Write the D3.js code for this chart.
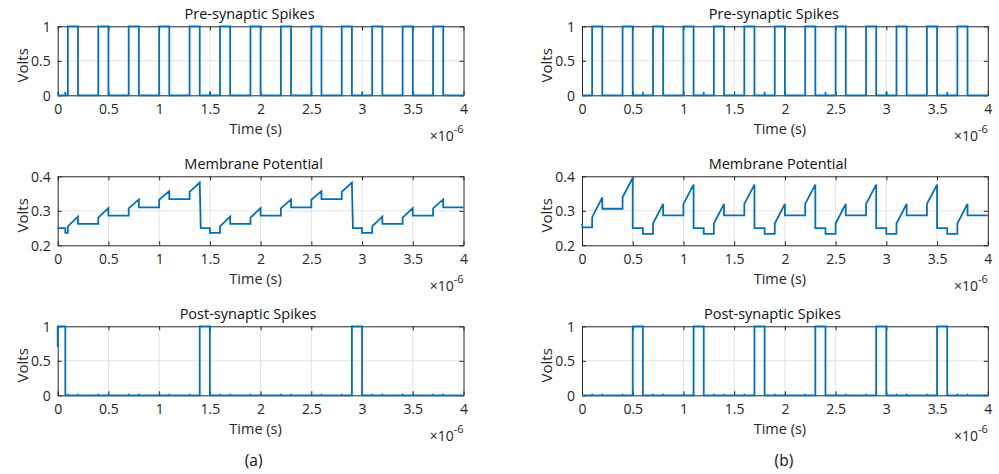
<!DOCTYPE html>
<html><head><meta charset="utf-8">
<script src="https://cdn.jsdelivr.net/npm/d3@7"></script>
<style>
html,body{margin:0;padding:0;background:#fff;}
svg{display:block;font-family:"Open Sans","Noto Sans",sans-serif;}
</style></head>
<body>
<svg id="c" width="999" height="474"></svg>
<script>
// ---------------- DATA (time in microseconds, i.e. ×10^-6 s) ----------------
const xTicks = [0, 0.5, 1, 1.5, 2, 2.5, 3, 3.5, 4];
const xTickLabels = ["0", "0.5", "1", "1.5", "2", "2.5", "3", "3.5", "4"];
const spikeTicks = [0, 0.5, 1];
const spikeTickLabels = ["0", "0.5", "1"];
const memTicks = [0.2, 0.3, 0.4];
const memTickLabels = ["0.2", "0.3", "0.4"];

// Pre-synaptic pulses (same for both cases)
const preOnA  = [0.1, 0.4, 0.7, 1.0, 1.3, 1.6, 1.9, 2.2, 2.5, 2.8, 3.1, 3.4, 3.7];
const preOffA = [0.2, 0.5, 0.8, 1.1, 1.4, 1.7, 2.0, 2.3, 2.6, 2.9, 3.2, 3.5, 3.8];
const preBlipsA = [0.075, 1.5, 3.0];
const preOnB  = [0.1, 0.4, 0.7, 1.0, 1.3, 1.6, 1.9, 2.2, 2.5, 2.8, 3.1, 3.4, 3.7];
const preOffB = [0.2, 0.5, 0.8, 1.1, 1.4, 1.7, 2.0, 2.3, 2.6, 2.9, 3.2, 3.5, 3.8];
const preBlipsB = [0.6, 1.2, 1.8, 2.4, 3.0, 3.6];

// Membrane potential vertices (a)
const memTimeA = [0, 0.075, 0.075, 0.1, 0.1, 0.2, 0.2, 0.4, 0.4, 0.5, 0.5, 0.7, 0.7, 0.8, 0.8, 1.0, 1.0, 1.1, 1.1, 1.3, 1.3, 1.4, 1.41,
  1.5, 1.5, 1.6, 1.6, 1.7, 1.7, 1.9, 1.9, 2.0, 2.0, 2.2, 2.2, 2.3, 2.3, 2.5, 2.5, 2.6, 2.6, 2.8, 2.8, 2.9, 2.91,
  3.0, 3.0, 3.1, 3.1, 3.2, 3.2, 3.4, 3.4, 3.5, 3.5, 3.7, 3.7, 3.8, 3.8, 4.0];
const memVoltA = [0.250, 0.250, 0.236, 0.236, 0.255, 0.283, 0.262, 0.262, 0.280, 0.308, 0.286, 0.286, 0.307, 0.333, 0.310, 0.310, 0.332, 0.357, 0.334, 0.334, 0.355, 0.382, 0.250,
  0.250, 0.236, 0.236, 0.255, 0.283, 0.262, 0.262, 0.280, 0.308, 0.286, 0.286, 0.307, 0.333, 0.310, 0.310, 0.332, 0.357, 0.334, 0.334, 0.355, 0.382, 0.250,
  0.250, 0.236, 0.236, 0.255, 0.283, 0.262, 0.262, 0.280, 0.308, 0.286, 0.286, 0.307, 0.333, 0.310, 0.310];

// Membrane potential vertices (b)
const memTimeB = [0, 0.005, 0.1, 0.1, 0.2, 0.2, 0.4, 0.4, 0.5, 0.5, 0.6, 0.6, 0.7, 0.7, 0.8, 0.8, 1.0, 1.0, 1.1, 1.1,
  1.2, 1.2, 1.3, 1.3, 1.4, 1.4, 1.6, 1.6, 1.7, 1.7, 1.8, 1.8, 1.9, 1.9, 2.0, 2.0, 2.2, 2.2, 2.3, 2.3,
  2.4, 2.4, 2.5, 2.5, 2.6, 2.6, 2.8, 2.8, 2.9, 2.9, 3.0, 3.0, 3.1, 3.1, 3.2, 3.2, 3.4, 3.4, 3.5, 3.5,
  3.6, 3.6, 3.7, 3.7, 3.8, 3.8, 4.0];
const memVoltB = [0.262, 0.252, 0.252, 0.281, 0.339, 0.306, 0.306, 0.339, 0.395, 0.250, 0.250, 0.233, 0.233, 0.263, 0.320, 0.287, 0.287, 0.320, 0.376, 0.250,
  0.250, 0.233, 0.233, 0.263, 0.320, 0.287, 0.287, 0.320, 0.376, 0.250, 0.250, 0.233, 0.233, 0.263, 0.320, 0.287, 0.287, 0.320, 0.376, 0.250,
  0.250, 0.233, 0.233, 0.263, 0.320, 0.287, 0.287, 0.320, 0.376, 0.250, 0.250, 0.233, 0.233, 0.263, 0.320, 0.287, 0.287, 0.320, 0.376, 0.250,
  0.250, 0.233, 0.233, 0.263, 0.320, 0.287, 0.287];

// Post-synaptic pulses
const postOnA  = [0, 1.4, 2.9];
const postOffA = [0.075, 1.5, 3.0];
const postStartA = 0.7;
const postOnB  = [0.5, 1.1, 1.7, 2.3, 2.9, 3.5];
const postOffB = [0.6, 1.2, 1.8, 2.4, 3.0, 3.6];
const postStartB = 0;

const titles = ["Pre-synaptic Spikes", "Membrane Potential", "Post-synaptic Spikes"];
const captions = ["(a)", "(b)"];

// ---------------- LAYOUT ----------------
const svg = d3.select("#c");
const colX = [57.7, 582.0];
const plotW = 405.8;
const rowY = [26.3, 176.3, 326.3];
const plotH = 69;
const titleOffset = [-11, -7, -12.5];
const blue = "#0072BD";
const axisCol = "#262626";
const textCol = "#262626";
const gridCol = "#e3e3e3";
const FONT = '"Open Sans","Noto Sans",sans-serif';

function pulseSeries(on, off, start) {
  const pts = [];
  if (on[0] > 0) pts.push([0, 0]);
  on.forEach((t, i) => {
    if (i === 0 && t === 0) pts.push([0, start]); else pts.push([t, 0]);
    pts.push([t, 1], [off[i], 1], [off[i], 0]);
  });
  pts.push([4, 0]);
  return pts;
}
function vertexSeries(ts, vs) { return ts.map((t, i) => [t, vs[i]]); }

function panel(col, row, yDomain, yTicks, yLabels, series, blips, glitches) {
  const x0 = colX[col], y0 = rowY[row];
  const x = d3.scaleLinear().domain([0, 4]).range([x0, x0 + plotW]);
  const y = d3.scaleLinear().domain(yDomain).range([y0 + plotH, y0]);
  const g = svg.append("g");

  // grid
  g.append("g").selectAll("line").data(xTicks.slice(1, -1)).join("line")
    .attr("x1", d => x(d)).attr("x2", d => x(d)).attr("y1", y0).attr("y2", y0 + plotH)
    .attr("stroke", gridCol).attr("stroke-width", 1);
  g.append("g").selectAll("line").data(yTicks.slice(1, -1)).join("line")
    .attr("y1", d => y(d)).attr("y2", d => y(d)).attr("x1", x0).attr("x2", x0 + plotW)
    .attr("stroke", gridCol).attr("stroke-width", 1);

  // axes via d3 axis (inward ticks)
  const ax = d3.axisBottom(x).tickValues(xTicks).tickSizeInner(-4).tickSizeOuter(0)
    .tickFormat((d, i) => xTickLabels[i]).tickPadding(10);
  const axB = g.append("g").attr("transform", `translate(0,${y0 + plotH})`).call(ax);
  const axT = g.append("g").attr("transform", `translate(0,${y0})`)
    .call(d3.axisTop(x).tickValues(xTicks).tickSizeInner(-4).tickSizeOuter(0).tickFormat(""));
  const ayL = g.append("g").attr("transform", `translate(${x0},0)`)
    .call(d3.axisLeft(y).tickValues(yTicks).tickSizeInner(-4).tickSizeOuter(0)
      .tickFormat((d, i) => yLabels[i]).tickPadding(10));
  const ayR = g.append("g").attr("transform", `translate(${x0 + plotW},0)`)
    .call(d3.axisRight(y).tickValues(yTicks).tickSizeInner(-4).tickSizeOuter(0).tickFormat(""));
  [axB, axT, ayL, ayR].forEach(a => {
    a.attr("font-size", null).attr("font-family", null);
    a.select(".domain").attr("stroke", axisCol).attr("stroke-width", 1);
    a.selectAll(".tick line").attr("stroke", axisCol);
    a.selectAll("text").attr("fill", textCol).style("font-size", "14px").style("font-family", FONT);
  });
  ayL.selectAll("text").attr("dy", "0.36em").attr("x", -7);
  axB.selectAll("text").attr("dy", "0").attr("y", 19);

  // data
  const line = d3.line().x(d => x(d[0])).y(d => y(d[1]));
  g.append("path").attr("d", line(series)).attr("fill", "none").attr("stroke", blue)
    .attr("stroke-width", 1.8).attr("stroke-linejoin", "miter");
  (blips || []).forEach(t => {
    g.append("path").attr("d", line([[t, 0], [t, 0.05]])).attr("stroke", blue).attr("stroke-width", 1.8);
  });
  (glitches || []).forEach(t => {
    g.append("path").attr("d", line([[t, 0], [t, 0.025]])).attr("stroke", blue).attr("stroke-width", 1.2);
  });

  // titles & labels
  const cx = x0 + plotW / 2;
  g.append("text").attr("x", cx + titleOffset[row]).attr("y", y0 - 7).attr("text-anchor", "middle")
    .attr("fill", "#111").style("font-size", "14.5px").text(titles[row]);
  g.append("text").attr("x", cx - 5).attr("y", y0 + plotH + 39).attr("text-anchor", "middle")
    .attr("fill", textCol).style("font-size", "14.5px").text("Time (s)");
  g.append("text").attr("transform", `translate(${x0 - 30},${y0 + plotH / 2 + 4.5}) rotate(-90)`)
    .attr("text-anchor", "middle").attr("fill", textCol).style("font-size", "15px").text("Volts");
  const ex = g.append("text").attr("x", x0 + plotW).attr("y", y0 + plotH + 46).attr("text-anchor", "end")
    .attr("fill", textCol).style("font-size", "14px");
  ex.append("tspan").text("\u00d710");
  ex.append("tspan").attr("dy", -8).style("font-size", "11px").text("-6");
}

const preA = pulseSeries(preOnA, preOffA, 0);
const preB = pulseSeries(preOnB, preOffB, 0);
const postA = pulseSeries(postOnA, postOffA, postStartA);
const postB = pulseSeries(postOnB, postOffB, postStartB);
const glitchA = preOnA.concat(preOffA).filter(t => !postOnA.includes(t) && !postOffA.includes(t));
const glitchB = preOnB.concat(preOffB).filter(t => !postOnB.includes(t) && !postOffB.includes(t));

panel(0, 0, [0, 1], spikeTicks, spikeTickLabels, preA, preBlipsA);
panel(0, 1, [0.2, 0.4], memTicks, memTickLabels, vertexSeries(memTimeA, memVoltA));
panel(0, 2, [0, 1], spikeTicks, spikeTickLabels, postA, null, glitchA);
panel(1, 0, [0, 1], spikeTicks, spikeTickLabels, preB, preBlipsB);
panel(1, 1, [0.2, 0.4], memTicks, memTickLabels, vertexSeries(memTimeB, memVoltB));
panel(1, 2, [0, 1], spikeTicks, spikeTickLabels, postB, null, glitchB);

captions.forEach((c, i) => {
  svg.append("text").attr("x", colX[i] + plotW / 2 - 7 + (i === 1 ? 6 : 0)).attr("y", 466)
    .attr("text-anchor", "middle").attr("fill", "#111").style("font-size", "15.5px").text(c);
});
</script>
</body></html>
